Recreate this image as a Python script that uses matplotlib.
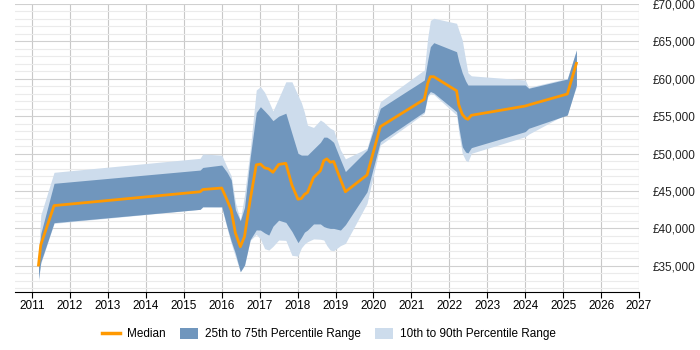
import matplotlib.pyplot as plt
from matplotlib.lines import Line2D
from matplotlib.patches import Patch
from matplotlib.ticker import FuncFormatter, MultipleLocator

plt.rcParams['font.family'] = ['Liberation Sans', 'DejaVu Sans']

# fractional years of each sample
dates = [2011.17, 2011.23, 2011.58, 2015.43, 2015.5, 2016.0, 2016.14, 2016.25, 2016.36, 2016.49,
         2016.6, 2016.75, 2016.91, 2017.02, 2017.13, 2017.24, 2017.35, 2017.5, 2017.69, 2017.85,
         2018.01, 2018.1, 2018.18, 2018.26, 2018.42, 2018.6, 2018.69, 2018.77, 2018.86, 2018.95,
         2019.13, 2019.26, 2019.83, 2020.18, 2021.34, 2021.43, 2021.5, 2021.59, 2022.19, 2022.25,
         2022.34, 2022.43, 2022.49, 2022.58, 2024.0, 2024.09, 2025.11, 2025.35]

median = [35100, 37800, 43050, 44900, 45200, 45400, 43800, 42450, 39400, 37550,
          38900, 43800, 48500, 48600, 48100, 47950, 47500, 48550, 48700, 45800,
          43900, 44000, 44550, 44800, 46800, 47700, 49050, 49300, 48850, 48950,
          46550, 44900, 47140, 53600, 57260, 59400, 60280, 60280, 58400, 56500,
          55250, 54720, 54590, 55120, 56360, 56500, 57970, 62070]

p75 = [36000, 39300, 46030, 47800, 48150, 48470, 47500, 46500, 42500, 41030,
       42800, 49500, 55500, 56270, 55700, 55100, 54400, 55000, 55400, 52700,
       50040, 49800, 49800, 49800, 50600, 51500, 52200, 52200, 51900, 51500,
       49200, 47600, 50480, 56060, 59840, 62500, 64300, 64830, 63620, 62300,
       60800, 59700, 59170, 59170, 59170, 58730, 59970, 63850]

p25 = [33300, 35500, 40770, 42550, 42900, 42900, 40220, 38300, 36660, 34210,
       35100, 38500, 39800, 39780, 39400, 39110, 40300, 41100, 40800, 39600,
       38100, 38800, 39500, 39780, 40600, 40600, 40250, 40100, 40000, 40000,
       39780, 40500, 44900, 51600, 55600, 57830, 58300, 58100, 55600, 53500,
       50920, 50200, 50100, 50800, 52940, 53380, 55160, 59170]

p90 = [36500, 41800, 47500, 49370, 49950, 49800, 48200, 47040, 43500, 41120,
       44500, 50500, 58500, 58950, 58200, 57000, 55700, 57400, 59600, 59600,
       57800, 56800, 55500, 53800, 53500, 54490, 54200, 53800, 53400, 53150,
       50500, 49300, 50700, 56940, 61180, 65500, 67800, 68090, 67420, 66500,
       65190, 62500, 60800, 60400, 59840, 58860, 60070, 63850]

p10 = [33000, 35300, 40680, 42550, 42850, 42820, 40000, 38000, 36220, 34210,
       35000, 38400, 39200, 38600, 37300, 37100, 37600, 38450, 38400, 36400,
       36300, 37400, 37900, 38220, 38600, 38550, 38450, 37700, 37100, 37020,
       37700, 38000, 43350, 51150, 55380, 57600, 58000, 57900, 55160, 52800,
       50040, 49100, 48920, 50040, 52260, 52600, 55380, 58950]

years = list(range(2011, 2028))

fig = plt.figure(figsize=(7, 3.5), dpi=100)
ax = fig.add_axes([0.0214, 0.1657, 0.8915, 0.8229])

light = '#cddcec'
dark = '#7096bd'
orange = '#ff9900'

ax.fill_between(dates, p10, p90, color=light, linewidth=0)
ax.fill_between(dates, p25, p75, color=dark, linewidth=0)
ax.plot(dates, median, color=orange, linewidth=2)

ax.set_xlim(2010.55, 2027)
ax.set_ylim(31500, 70000)
ax.set_xticks(years)
ax.set_xticklabels([str(y) for y in years])
ax.yaxis.set_major_locator(MultipleLocator(5000))
ax.yaxis.set_minor_locator(MultipleLocator(1000))
ax.yaxis.set_major_formatter(FuncFormatter(lambda v, p: '£{:,.0f}'.format(v)))
ax.yaxis.tick_right()

#grid
ax.grid(axis='x', color='#c8c8c8', linewidth=0.8)
ax.grid(axis='y', which='major', color='#d0d0d0', linewidth=0.8)
ax.grid(axis='y', which='minor', color='#ebebeb', linewidth=0.8)
ax.set_axisbelow(True)

for s in ['top', 'right', 'left']:
    ax.spines[s].set_visible(False)
ax.spines['bottom'].set_color('black')
ax.tick_params(axis='x', length=4, color='black', labelsize=8.5, pad=2)
ax.tick_params(axis='y', which='both', length=0, labelsize=8.5, pad=10, labelcolor='#222222')

handles = [Line2D([], [], color=orange, linewidth=2.5),
           Patch(facecolor=dark), Patch(facecolor=light)]
labels = ['Median', '25th to 75th Percentile Range', '10th to 90th Percentile Range']
fig.legend(handles, labels, loc='center', bbox_to_anchor=(0.47, 0.045), ncol=3,
           frameon=False, fontsize=8.5, handlelength=1.5, handleheight=1.0,
           columnspacing=1.2, handletextpad=0.6)

fig.savefig('out.png', dpi=100)
